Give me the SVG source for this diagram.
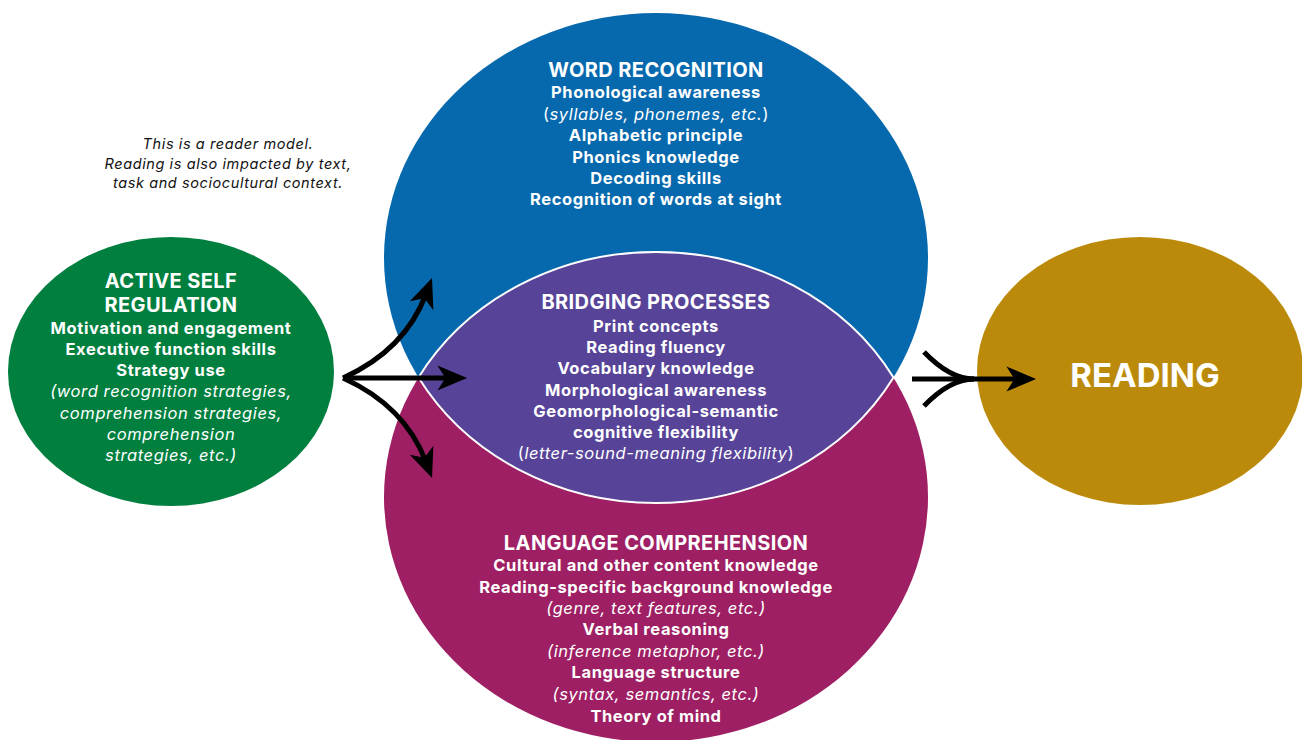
<svg xmlns="http://www.w3.org/2000/svg" width="1302" height="740" viewBox="0 0 1302 740">
<style>
text{font-family:Inter,"Open Sans","Liberation Sans",sans-serif;text-anchor:middle;fill:#fff}
.t{font-size:20px;font-weight:700;letter-spacing:0.4px}
.i{font-size:16.5px;font-weight:700;letter-spacing:0.6px}
.it{font-size:16.5px;font-weight:400;font-style:italic;letter-spacing:0.6px}
.up{font-style:normal}
.note{font-size:14.5px;font-style:italic;fill:#111;letter-spacing:0.6px}
.rd{font-size:33px;font-weight:700}
.con{fill:none;stroke:#000;stroke-width:5}
</style>
<defs>
<marker id="ah" markerUnits="userSpaceOnUse" markerWidth="40" markerHeight="40" refX="0" refY="0" viewBox="-15 -15 35 30" orient="auto" overflow="visible">
<path d="M15,0 L-11,-11 L-4,0 L-11,11 Z" fill="#000"/>
</marker>
</defs>
<rect width="1302" height="740" fill="#fff"/>
<g id="note">
<text class="note" x="228" y="149">This is a reader model.</text>
<text class="note" x="228" y="168.5">Reading is also impacted by text,</text>
<text class="note" x="228" y="188">task and sociocultural context.</text>
</g>
<g id="word-recognition">
<ellipse cx="656" cy="258" rx="272" ry="245" fill="#0769AD"/>
</g>
<g id="language-comprehension">
<ellipse cx="656" cy="497" rx="272" ry="245" fill="#9E1F63"/>
</g>
<g id="bridging-processes">
<path d="M418.5,377.5 A272,245 0 0 1 893.5,377.5 A272,245 0 0 1 418.5,377.5 Z" fill="#574499" stroke="#fff" stroke-width="2"/>
</g>
<g id="word-recognition-text">
<text class="t" x="656" y="77">WORD RECOGNITION</text>
<text class="i" x="656" y="97.5">Phonological awareness</text>
<text class="it" x="656" y="119.5"><tspan class="up">(</tspan>syllables, phonemes, etc.<tspan class="up">)</tspan></text>
<text class="i" x="656" y="140.5">Alphabetic principle</text>
<text class="i" x="656" y="162.5">Phonics knowledge</text>
<text class="i" x="656" y="183.5">Decoding skills</text>
<text class="i" x="656" y="204.5">Recognition of words at sight</text>
</g>
<g id="bridging-processes-text">
<text class="t" x="656" y="309">BRIDGING PROCESSES</text>
<text class="i" x="656" y="331.5">Print concepts</text>
<text class="i" x="656" y="352.5">Reading fluency</text>
<text class="i" x="656" y="373.5">Vocabulary knowledge</text>
<text class="i" x="656" y="395.5">Morphological awareness</text>
<text class="i" x="656" y="416.5">Geomorphological-semantic</text>
<text class="i" x="656" y="437.5">cognitive flexibility</text>
<text class="it" x="656" y="458.5"><tspan class="up">(</tspan>letter-sound-meaning flexibility<tspan class="up">)</tspan></text>
</g>
<g id="language-comprehension-text">
<text class="t" x="656" y="550">LANGUAGE COMPREHENSION</text>
<text class="i" x="656" y="570.5">Cultural and other content knowledge</text>
<text class="i" x="656" y="592.5">Reading-specific background knowledge</text>
<text class="it" x="656" y="613.5">(genre, text features, etc.)</text>
<text class="i" x="656" y="634.5">Verbal reasoning</text>
<text class="it" x="656" y="656.5">(inference metaphor, etc.)</text>
<text class="i" x="656" y="677.5">Language structure</text>
<text class="it" x="656" y="699.5">(syntax, semantics, etc.)</text>
<text class="i" x="656" y="721.5">Theory of mind</text>
</g>
<g id="active-self-regulation">
<ellipse cx="171" cy="371.5" rx="163" ry="134.5" fill="#007F3F"/>
<text class="t" x="171" y="288">ACTIVE SELF</text>
<text class="t" x="171" y="312">REGULATION</text>
<text class="i" x="171" y="333.5">Motivation and engagement</text>
<text class="i" x="171" y="354.5">Executive function skills</text>
<text class="i" x="171" y="375.5">Strategy use</text>
<text class="it" x="171" y="396.5">(word recognition strategies,</text>
<text class="it" x="171" y="418.5">comprehension strategies,</text>
<text class="it" x="171" y="439.5">comprehension</text>
<text class="it" x="171" y="460.5">strategies, etc.)</text>
</g>
<g id="reading">
<ellipse cx="1140" cy="371" rx="163" ry="134" fill="#BC8A0B"/>
<text class="rd" x="1145" y="387">READING</text>
</g>
<g id="connectors">
<path class="con" d="M343,378 Q405,350 426,294" marker-end="url(#ah)"/>
<path class="con" d="M343,378 L450,378" marker-end="url(#ah)"/>
<path class="con" d="M343,378 Q405,406 426,462" marker-end="url(#ah)"/>
<path class="con" d="M912,379 L1019,379" marker-end="url(#ah)"/>
<path class="con" d="M924,352 Q950,379 974,379"/>
<path class="con" d="M924,406 Q950,379 974,379"/>
</g>
</svg>
